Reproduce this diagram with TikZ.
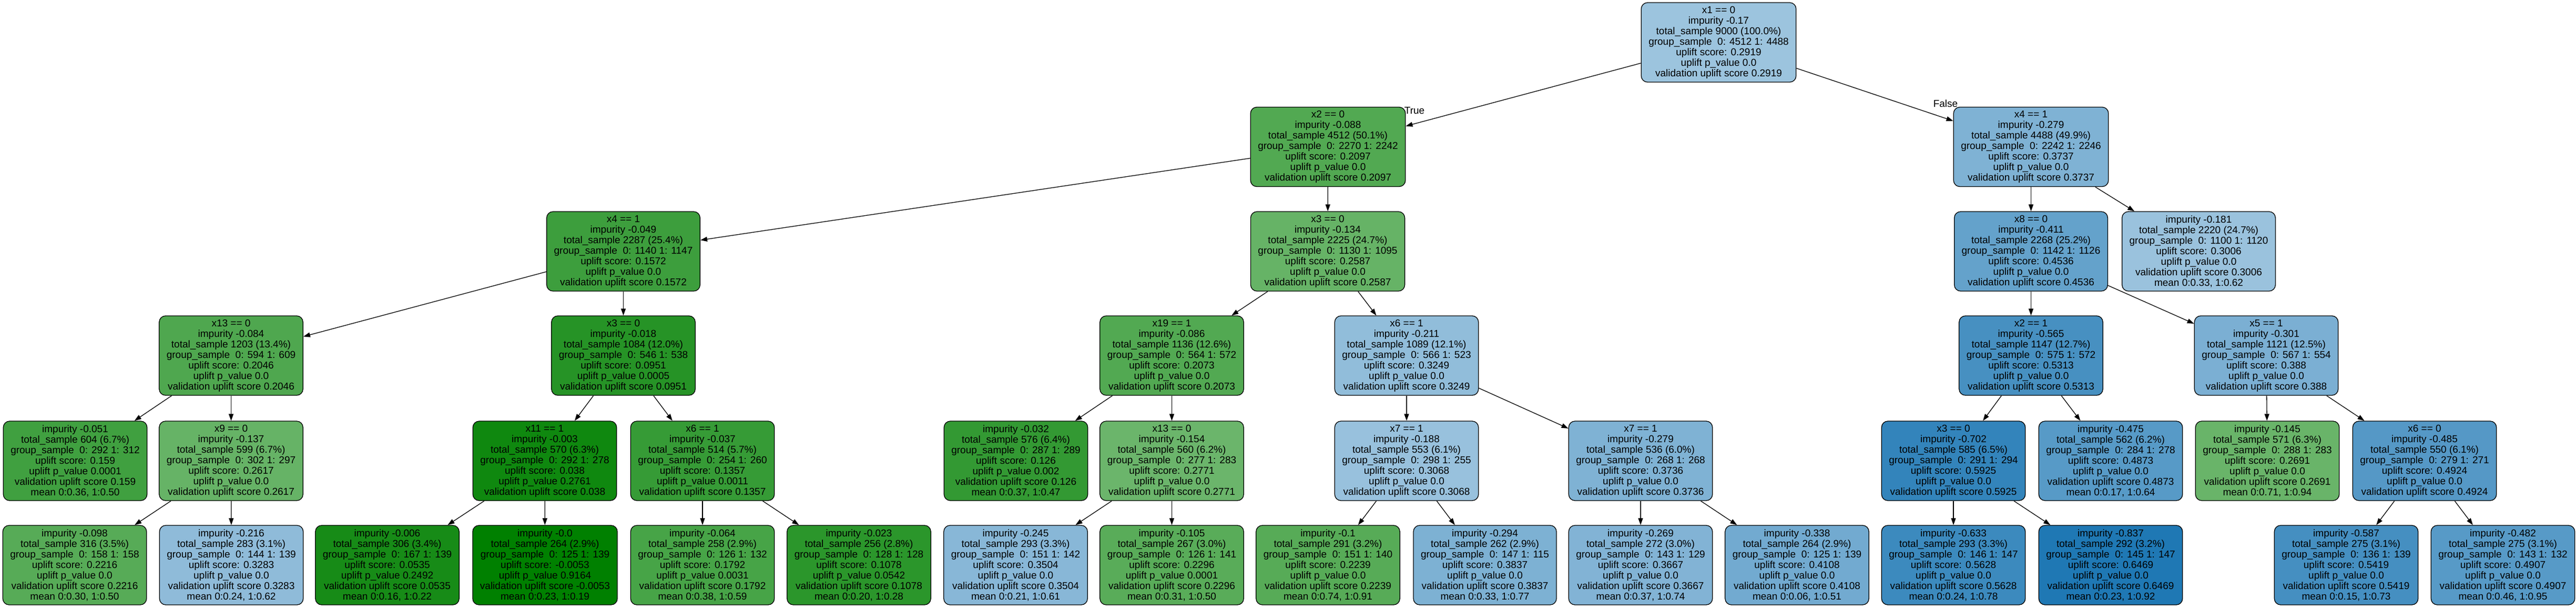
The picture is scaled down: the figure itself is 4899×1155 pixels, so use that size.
\documentclass[tikz,border=0pt]{standalone}
\usepackage{fontspec}
\setmainfont{Liberation Sans}
\usetikzlibrary{arrows.meta}
\definecolor{gbase}{RGB}{0,128,0}
\definecolor{bbase}{RGB}{31,120,180}
\newcommand\myU[6]{impurity #1\\total\_sample #2\\group\_sample\ \ 0: #3 1: #4\\uplift score: #5\\uplift p\_value #6\\validation uplift score #5}
\tikzset{
  tn/.style={draw=black, line width=1.3pt, rounded corners=12pt, align=center,
    inner xsep=14pt, inner ysep=0pt, minimum height=151pt,
    font=\fontsize{19}{20}\selectfont},
  G/.style={tn, fill=gbase!#1!white},
  B/.style={tn, fill=bbase!#1!white},
  edge/.style={line width=1.3pt, -{Triangle[length=13pt,width=9pt]}},
  lbl/.style={inner sep=0pt, font=\fontsize{19}{20}\selectfont}
}
\begin{document}
\begin{tikzpicture}[x=1pt,y=-1pt]
\useasboundingbox (0,0) rectangle (4899,1155);
% level 0
\node[B=44] (n0) at (3268.5,80.5) {x1 == 0\\\myU{-0.17}{9000 (100.0\%)}{4512}{4488}{0.2919}{0.0}};
% level 1
\node[G=68] (n1) at (2525.5,279) {x2 == 0\\\myU{-0.088}{4512 (50.1\%)}{2270}{2242}{0.2097}{0.0}};
\node[B=57] (n2) at (3862.5,279) {x4 == 1\\\myU{-0.279}{4488 (49.9\%)}{2242}{2246}{0.3737}{0.0}};
% level 2
\node[G=76] (n3) at (1185.5,477.5) {x4 == 1\\\myU{-0.049}{2287 (25.4\%)}{1140}{1147}{0.1572}{0.0}};
\node[G=60] (n4) at (2525,477.5) {x3 == 0\\\myU{-0.134}{2225 (24.7\%)}{1130}{1095}{0.2587}{0.0}};
\node[B=69] (n5) at (3862.5,477.5) {x8 == 0\\\myU{-0.411}{2268 (25.2\%)}{1142}{1126}{0.4536}{0.0}};
\node[B=45] (n6) at (4181.5,477.5) {\myU{-0.181}{2220 (24.7\%)}{1100}{1120}{0.3006}{0.0}\\mean 0:0.33, 1:0.62};
% level 3
\node[G=69] (n7) at (439.5,675.5) {x13 == 0\\\myU{-0.084}{1203 (13.4\%)}{594}{609}{0.2046}{0.0}};
\node[G=85] (n8) at (1185.5,675.5) {x3 == 0\\\myU{-0.018}{1084 (12.0\%)}{546}{538}{0.0951}{0.0005}};
\node[G=68] (n9) at (2228.5,675.5) {x19 == 1\\\myU{-0.086}{1136 (12.6\%)}{564}{572}{0.2073}{0.0}};
\node[B=49] (n10) at (2675,675.5) {x6 == 1\\\myU{-0.211}{1089 (12.1\%)}{566}{523}{0.3249}{0.0}};
\node[B=82] (n11) at (3862.5,675.5) {x2 == 1\\\myU{-0.565}{1147 (12.7\%)}{575}{572}{0.5313}{0.0}};
\node[B=59] (n12) at (4310,675.5) {x5 == 1\\\myU{-0.301}{1121 (12.5\%)}{567}{554}{0.388}{0.0}};
% level 4
\node[G=75] (n13) at (143,875.5) {\myU{-0.051}{604 (6.7\%)}{292}{312}{0.159}{0.0001}\\mean 0:0.36, 1:0.50};
\node[G=60] (n14) at (439.5,875.5) {x9 == 0\\\myU{-0.137}{599 (6.7\%)}{302}{297}{0.2617}{0.0}};
\node[G=94] (n15) at (1036,875.5) {x11 == 1\\\myU{-0.003}{570 (6.3\%)}{292}{278}{0.038}{0.2761}};
\node[G=79] (n16) at (1336,875.5) {x6 == 1\\\myU{-0.037}{514 (5.7\%)}{254}{260}{0.1357}{0.0011}};
\node[G=80] (n17) at (1932,875.5) {\myU{-0.032}{576 (6.4\%)}{287}{289}{0.126}{0.002}\\mean 0:0.37, 1:0.47};
\node[G=58] (n18) at (2228.5,875.5) {x13 == 0\\\myU{-0.154}{560 (6.2\%)}{277}{283}{0.2771}{0.0}};
\node[B=46] (n19) at (2675,875.5) {x7 == 1\\\myU{-0.188}{553 (6.1\%)}{298}{255}{0.3068}{0.0}};
\node[B=57] (n20) at (3120,875.5) {x7 == 1\\\myU{-0.279}{536 (6.0\%)}{268}{268}{0.3736}{0.0}};
\node[B=91] (n21) at (3715,875.5) {x3 == 0\\\myU{-0.702}{585 (6.5\%)}{291}{294}{0.5925}{0.0}};
\node[B=75] (n22) at (4014,875.5) {\myU{-0.475}{562 (6.2\%)}{284}{278}{0.4873}{0.0}\\mean 0:0.17, 1:0.64};
\node[G=59] (n23) at (4312,875.5) {\myU{-0.145}{571 (6.3\%)}{288}{283}{0.2691}{0.0}\\mean 0:0.71, 1:0.94};
\node[B=76] (n24) at (4611,875.5) {x6 == 0\\\myU{-0.485}{550 (6.1\%)}{279}{271}{0.4924}{0.0}};
% level 5
\node[G=66] (l1) at (142,1073.5) {\myU{-0.098}{316 (3.5\%)}{158}{158}{0.2216}{0.0}\\mean 0:0.30, 1:0.50};
\node[B=50] (l2) at (440,1073.5) {\myU{-0.216}{283 (3.1\%)}{144}{139}{0.3283}{0.0}\\mean 0:0.24, 1:0.62};
\node[G=91] (l3) at (736.5,1073.5) {\myU{-0.006}{306 (3.4\%)}{167}{139}{0.0535}{0.2492}\\mean 0:0.16, 1:0.22};
\node[G=100] (l4) at (1036.5,1073.5) {\myU{-0.0}{264 (2.9\%)}{125}{139}{-0.0053}{0.9164}\\mean 0:0.23, 1:0.19};
\node[G=72] (l5) at (1336,1073.5) {\myU{-0.064}{258 (2.9\%)}{126}{132}{0.1792}{0.0031}\\mean 0:0.38, 1:0.59};
\node[G=83] (l6) at (1633.5,1073.5) {\myU{-0.023}{256 (2.8\%)}{128}{128}{0.1078}{0.0542}\\mean 0:0.20, 1:0.28};
\node[B=53] (l7) at (1931.5,1073.5) {\myU{-0.245}{293 (3.3\%)}{151}{142}{0.3504}{0.0}\\mean 0:0.21, 1:0.61};
\node[G=65] (l8) at (2228.5,1073.5) {\myU{-0.105}{267 (3.0\%)}{126}{141}{0.2296}{0.0001}\\mean 0:0.31, 1:0.50};
\node[G=66] (l9) at (2525.5,1073.5) {\myU{-0.1}{291 (3.2\%)}{151}{140}{0.2239}{0.0}\\mean 0:0.74, 1:0.91};
\node[B=58] (l10) at (2824,1073.5) {\myU{-0.294}{262 (2.9\%)}{147}{115}{0.3837}{0.0}\\mean 0:0.33, 1:0.77};
\node[B=56] (l11) at (3120,1073.5) {\myU{-0.269}{272 (3.0\%)}{143}{129}{0.3667}{0.0}\\mean 0:0.37, 1:0.74};
\node[B=63] (l12) at (3417.5,1073.5) {\myU{-0.338}{264 (2.9\%)}{125}{139}{0.4108}{0.0}\\mean 0:0.06, 1:0.51};
\node[B=87] (l13) at (3715,1073.5) {\myU{-0.633}{293 (3.3\%)}{146}{147}{0.5628}{0.0}\\mean 0:0.24, 1:0.78};
\node[B=100] (l14) at (4014,1073.5) {\myU{-0.837}{292 (3.2\%)}{145}{147}{0.6469}{0.0}\\mean 0:0.23, 1:0.92};
\node[B=83] (l15) at (4462,1073.5) {\myU{-0.587}{275 (3.1\%)}{136}{139}{0.5419}{0.0}\\mean 0:0.15, 1:0.73};
\node[B=75] (l16) at (4760,1073.5) {\myU{-0.482}{275 (3.1\%)}{143}{132}{0.4907}{0.0}\\mean 0:0.46, 1:0.95};
% edges
\foreach \a/\b in {n0/n1,n0/n2,n1/n3,n1/n4,n2/n5,n2/n6,n3/n7,n3/n8,n4/n9,n4/n10,n5/n11,n5/n12,
  n7/n13,n7/n14,n8/n15,n8/n16,n9/n17,n9/n18,n10/n19,n10/n20,n11/n21,n11/n22,n12/n23,n12/n24,
  n14/l1,n14/l2,n15/l3,n15/l4,n16/l5,n16/l6,n18/l7,n18/l8,n19/l9,n19/l10,n20/l11,n20/l12,
  n21/l13,n21/l14,n24/l15,n24/l16}
  \draw[edge] (\a) -- (\b);
% edge labels
\node[lbl] (tlab) at (2690,210) {True};
\node[lbl] (flab) at (3700,197) {False};
\end{tikzpicture}
\end{document}
